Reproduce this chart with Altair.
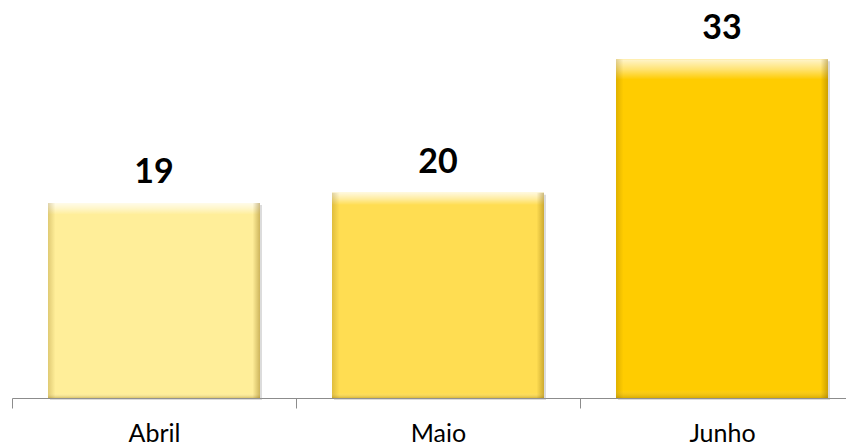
import altair as alt
import pandas as pd

categories = ["Abril", "Maio", "Junho"]
values = [19, 20, 33]
colors = ["#FFEE99", "#FFDD52", "#FFCC00"]

df = pd.DataFrame({"mes": categories, "valor": values})

xenc = alt.X(
    "mes:N",
    sort=categories,
    scale=alt.Scale(domain=categories, range=[0, 852], paddingInner=0, paddingOuter=0),
    axis=alt.Axis(
        title=None,
        labelAngle=0,
        labelFont="Lato",
        labelFontSize=25,
        labelColor="#000000",
        labelBaseline="alphabetic",
        labelPadding=33,
        domainColor="#8c8c8c",
        domainWidth=1,
        tickColor="#8c8c8c",
        tickSize=10,
        tickWidth=1,
        tickBand="extent",
        grid=False,
    ),
)
yenc = alt.Y("valor:Q", scale=alt.Scale(domain=[0, 37.6], nice=False, zero=True), axis=None)

base = alt.Chart(df).encode(x=xenc, y=yenc)
bw = alt.RelativeBandSize(band=0.7465)

shadow = base.mark_bar(color="#9a9a9a", opacity=0.35, xOffset=2, yOffset=2, width=bw)

bars = base.mark_bar(width=bw).encode(
    color=alt.Color("mes:N", scale=alt.Scale(domain=categories, range=colors), legend=None)
)

vgrad = {
    "gradient": "linear", "x1": 0, "y1": 0, "x2": 0, "y2": 1,
    "stops": [
        {"offset": 0, "color": "rgba(255,255,255,0.8)"},
        {"offset": 0.03, "color": "rgba(255,255,255,0.45)"},
        {"offset": 0.06, "color": "rgba(255,255,255,0)"},
        {"offset": 0.975, "color": "rgba(255,255,255,0)"},
        {"offset": 1, "color": "rgba(130,95,0,0.3)"},
    ],
}
hgrad = {
    "gradient": "linear", "x1": 0, "y1": 0, "x2": 1, "y2": 0,
    "stops": [
        {"offset": 0, "color": "rgba(130,95,0,0.25)"},
        {"offset": 0.035, "color": "rgba(130,95,0,0)"},
        {"offset": 0.965, "color": "rgba(130,95,0,0)"},
        {"offset": 1, "color": "rgba(130,95,0,0.4)"},
    ],
}
top_overlay = base.mark_bar(color=vgrad, width=bw)
side_overlay = base.mark_bar(color=hgrad, width=bw)

labels = base.mark_text(
    font="Lato", fontWeight="bold", fontSize=34, baseline="alphabetic", dy=-20, color="#000000"
).encode(text=alt.Text("valor:Q"))

chart = (
    alt.layer(shadow, bars, top_overlay, side_overlay, labels)
    .properties(
        width=834,
        height=386,
        autosize=alt.AutoSizeParams(type="none"),
        padding={"left": 4, "top": 4, "right": 0, "bottom": 50},
        background="#ffffff",
    )
    .configure_view(stroke=None)
)

chart.save("out.html", embed_options={"renderer": "svg", "actions": False})
